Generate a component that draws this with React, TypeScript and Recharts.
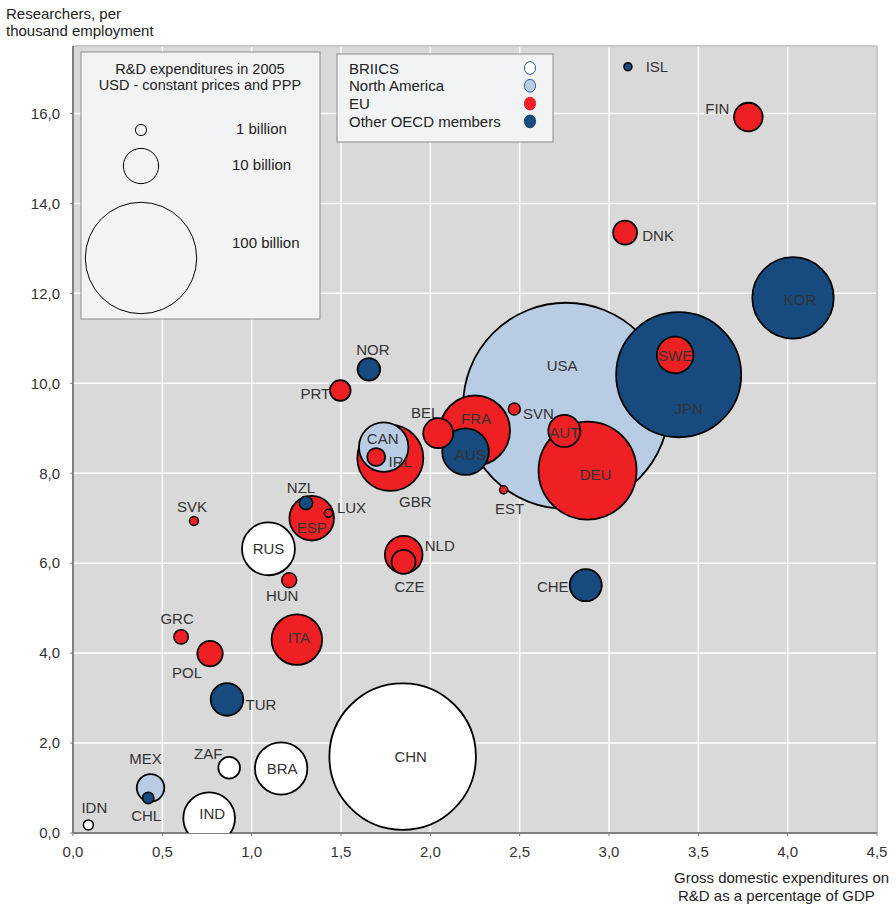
import { ScatterChart, Scatter, XAxis, YAxis, ZAxis, CartesianGrid, ReferenceLine } from 'recharts'

// R&D intensity vs researchers, bubble = GERD (billion USD 2005 PPP)
const COUNTRIES = [
  'CHN', 'IND', 'BRA', 'RUS', 'ZAF', 'IDN',
  'USA', 'CAN', 'MEX',
  'FIN', 'DNK', 'SWE', 'DEU', 'AUT', 'SVN', 'EST', 'FRA', 'BEL', 'PRT', 'GBR', 'IRL',
  'ESP', 'LUX', 'NLD', 'CZE', 'HUN', 'SVK', 'ITA', 'GRC', 'POL',
  'ISL', 'KOR', 'JPN', 'CHE', 'NOR', 'AUS', 'NZL', 'TUR', 'CHL',
]
const REGIONS = [
  'BRIICS', 'BRIICS', 'BRIICS', 'BRIICS', 'BRIICS', 'BRIICS',
  'North America', 'North America', 'North America',
  'EU', 'EU', 'EU', 'EU', 'EU', 'EU', 'EU', 'EU', 'EU', 'EU', 'EU', 'EU',
  'EU', 'EU', 'EU', 'EU', 'EU', 'EU', 'EU', 'EU', 'EU',
  'Other OECD members', 'Other OECD members', 'Other OECD members', 'Other OECD members', 'Other OECD members',
  'Other OECD members', 'Other OECD members', 'Other OECD members', 'Other OECD members',
]
const GERD_PCT = [
  1.845, 0.762, 1.165, 1.094, 0.874, 0.086,
  2.76, 1.739, 0.434,
  3.78, 3.09, 3.37, 2.88, 2.75, 2.47, 2.41, 2.25, 2.044, 1.496, 1.776, 1.697,
  1.336, 1.43, 1.851, 1.85, 1.21, 0.677, 1.253, 0.605, 0.767,
  3.106, 4.03, 3.39, 2.87, 1.656, 2.197, 1.304, 0.862, 0.421,
]
const RESEARCHERS = [
  1.7, 0.33, 1.435, 6.32, 1.45, 0.18,
  9.5, 8.58, 1.005,
  15.92, 13.35, 10.63, 8.06, 8.94, 9.43, 7.63, 8.95, 8.89, 9.84, 8.34, 8.36,
  7.0, 7.11, 6.19, 6.03, 5.62, 6.94, 4.3, 4.36, 3.99,
  17.04, 11.9, 10.19, 5.51, 10.31, 8.48, 7.34, 2.97, 0.78,
]
const RD_BILLIONS = [
  173, 21.5, 22.1, 22.6, 3.8, 0.8,
  342, 19.7, 6.1,
  6.6, 4.6, 10.8, 77.4, 8.25, 1.16, 0.52, 39.5, 7.25, 3.42, 35.1, 2.61,
  16.0, 0.52, 11.4, 4.64, 1.81, 0.65, 20.6, 1.67, 5.2,
  0.52, 53.4, 126, 8.25, 4.1, 17.5, 1.45, 8.56, 1.05,
]

const X_TICKS = [0, 0.5, 1, 1.5, 2, 2.5, 3, 3.5, 4, 4.5]
const Y_TICKS = [0, 2, 4, 6, 8, 10, 12, 14, 16]
const LEGEND_GROUPS = ['BRIICS', 'North America', 'EU', 'Other OECD members']
const LEGEND_SIZES = [1, 10, 100]
const LEGEND_SIZE_LABELS = ['1 billion', '10 billion', '100 billion']

const FILL: Record<string, string> = {
  BRIICS: '#ffffff',
  'North America': '#b8cce4',
  EU: '#ee2024',
  'Other OECD members': '#174a7e',
}

// text position relative to bubble centre (px)
const LABEL_OFFSET: Record<string, [number, number]> = {
  ISL: [29, 0], FIN: [-31, -9], DNK: [33, 3], KOR: [7, 2], JPN: [10, 34], SWE: [0, 1],
  USA: [-4, -40], DEU: [8, 4], AUT: [0, 2], SVN: [24, 5], EST: [6, 19], CHE: [-33, 1],
  FRA: [1, -12], AUS: [5, 3], BEL: [-13, -21], NOR: [4, -20], PRT: [-25, 3], CAN: [-1, -9],
  IRL: [24, 4], GBR: [25, 44], NZL: [-5, -15], LUX: [23, -6], ESP: [0, 9], NLD: [36, -9],
  CZE: [6, 25], HUN: [-7, 15], SVK: [-2, -14], RUS: [0, 0], GRC: [-4, -18], POL: [-23, 19],
  ITA: [2, -2], TUR: [34, 5], CHN: [8, 0], BRA: [1, 0], ZAF: [-21, -14], IND: [3, -5],
  MEX: [-5, -29], CHL: [-2, 18], IDN: [6, -17],
}

const Z_MAX = 400
const Z_RANGE = Math.PI * 55.7 * 55.7 * 4
const radiusFor = (v: number) => Math.sqrt(((v / Z_MAX) * Z_RANGE) / Math.PI)

const FONT = 'Arial, "Liberation Sans", sans-serif'

const data = COUNTRIES.map((code, i) => ({
  code,
  region: REGIONS[i],
  x: GERD_PCT[i],
  y: RESEARCHERS[i],
  z: RD_BILLIONS[i],
})).sort((a, b) => b.z - a.z)

const fmt = (v: number) => v.toFixed(1).replace('.', ',')

function Bubble(props: any) {
  const { cx, cy, payload } = props
  const r = props.width ? props.width / 2 : Math.sqrt(props.size / Math.PI)
  return (
    <circle cx={cx} cy={cy} r={r} fill={FILL[payload.region]} stroke="#000" strokeWidth={r > 8 ? 1.8 : 1.5} />
  )
}

function BubbleLabel(props: any) {
  const { cx, cy, payload } = props
  const [dx, dy] = LABEL_OFFSET[payload.code] || [0, 0]
  return (
    <text x={cx + dx} y={cy + dy} textAnchor="middle" dominantBaseline="central" fontSize={15} fontFamily={FONT} fill="#333">
      {payload.code}
    </text>
  )
}

function Legends() {
  return (
    <svg width={896} height={905} style={{ position: 'absolute', left: 0, top: 0, pointerEvents: 'none' }}>
      <rect x={81} y={52} width={239} height={267} fill="#f2f3f5" stroke="#8c8c8c" strokeWidth={1} />
      <text x={200} y={68.5} textAnchor="middle" dominantBaseline="central" fontSize={14.5} fontFamily={FONT} fill="#222">
        R&amp;D expenditures in 2005
      </text>
      <text x={200} y={85} textAnchor="middle" dominantBaseline="central" fontSize={14.5} fontFamily={FONT} fill="#222">
        USD - constant prices and PPP
      </text>
      {LEGEND_SIZES.map((v, i) => {
        const cy = [130, 166, 258][i]
        return (
          <g key={v}>
            <circle cx={141} cy={cy} r={radiusFor(v)} fill="none" stroke="#000" strokeWidth={1} />
            <text x={[236, 232, 232][i]} y={[128, 164, 242][i]} dominantBaseline="central" fontSize={15} fontFamily={FONT} fill="#222">
              {LEGEND_SIZE_LABELS[i]}
            </text>
          </g>
        )
      })}
      <rect x={337} y={54} width={216} height={88} fill="#f2f3f5" stroke="#8c8c8c" strokeWidth={1} />
      {LEGEND_GROUPS.map((g, i) => (
        <g key={g}>
          <text x={349} y={68 + i * 17.8} dominantBaseline="central" fontSize={15} fontFamily={FONT} fill="#222">
            {g}
          </text>
          <ellipse cx={530} cy={68 + i * 17.8} rx={5.6} ry={6.4} fill={FILL[g]}
            stroke={i < 2 ? '#2e5f95' : FILL[g]} strokeWidth={1} />
        </g>
      ))}
    </svg>
  )
}

export default function App() {
  return (
    <div style={{ position: 'absolute', left: 0, top: 0, width: 896, height: 905, background: '#fff', fontFamily: FONT }}>
      <ScatterChart width={896} height={905} margin={{ top: 46, right: 19, left: 13, bottom: 42 }}>
        <CartesianGrid fill="#d9d9d9" stroke="#ffffff" strokeWidth={1.5} />
        <XAxis
          type="number" dataKey="x" domain={[0, 4.5]} ticks={X_TICKS} height={30}
          tickFormatter={fmt} tick={{ fontSize: 15, fill: '#333', fontFamily: FONT }}
          axisLine={{ stroke: '#808080', strokeWidth: 2 }} tickLine={{ stroke: '#808080' }}
          tickSize={3} tickMargin={10} interval={0}
        />
        <YAxis
          type="number" dataKey="y" domain={[0, 17.5]} ticks={Y_TICKS} width={60} allowDataOverflow
          tickFormatter={fmt} tick={{ fontSize: 15, fill: '#333', fontFamily: FONT }}
          axisLine={{ stroke: '#808080', strokeWidth: 2 }} tickLine={{ stroke: '#808080' }}
          tickSize={3} tickMargin={10} interval={0}
        />
        <ZAxis type="number" dataKey="z" domain={[0, Z_MAX]} range={[0, Z_RANGE]} />
        <ReferenceLine y={17.5} stroke="#c8c8c8" strokeWidth={2} />
        <ReferenceLine x={4.5} stroke="#c8c8c8" strokeWidth={2} />
        <Scatter data={data} shape={Bubble} isAnimationActive={false} />
        <Scatter data={data} shape={BubbleLabel} isAnimationActive={false} />
      </ScatterChart>
      <Legends />
      <div style={{ position: 'absolute', left: 6, top: 5, fontSize: 15, lineHeight: '17px', color: '#222' }}>
        Researchers, per<br />thousand employment
      </div>
      <div style={{ position: 'absolute', left: 674, top: 869, fontSize: 15, lineHeight: '18px', color: '#222', whiteSpace: 'nowrap' }}>
        Gross domestic expenditures on<br /><span style={{ paddingLeft: 4 }}>R&amp;D as a percentage of GDP</span>
      </div>
    </div>
  )
}
